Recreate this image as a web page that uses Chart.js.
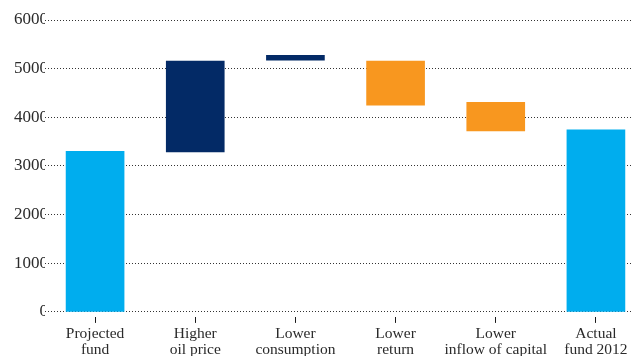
<!DOCTYPE html>
<html>
<head>
<meta charset="utf-8">
<script src="https://cdn.jsdelivr.net/npm/chart.js@4"></script>
<style>
  html, body { margin: 0; padding: 0; background: #fff; overflow: hidden; }
  #wrap { width: 631px; height: 356px; position: relative; overflow: hidden; }
</style>
</head>
<body>
<div id="wrap"><canvas id="c" width="646" height="370"></canvas></div>
<script>
const categories = [
  ['Projected', 'fund'],
  ['Higher', 'oil price'],
  ['Lower', 'consumption'],
  ['Lower', 'return'],
  ['Lower', 'inflow of capital'],
  ['Actual', 'fund 2012']
];
const barStart = [0, 3290, 5175, 4250, 3720, 0];
const barEnd   = [3300, 5155, 5275, 5155, 4310, 3740];
const barColors = ['#00ADEE', '#032A66', '#032A66', '#F8971F', '#F8971F', '#00ADEE'];
const yTicks = [0, 1000, 2000, 3000, 4000, 5000, 6000];

const textColor = '#2a2a2a';
const fontFamily = "'Liberation Serif', 'Times New Roman', serif";

new Chart(document.getElementById('c'), {
  type: 'bar',
  data: {
    labels: categories,
    datasets: [{
      data: categories.map((c, i) => [barStart[i], barEnd[i]]),
      backgroundColor: barColors,
      borderWidth: 0,
      barThickness: 58
    }]
  },
  options: {
    responsive: false,
    animation: false,
    events: [],
    layout: { padding: { top: 20, left: 0, right: 0, bottom: 0 } },
    plugins: { legend: { display: false }, tooltip: { enabled: false } },
    scales: {
      x: {
        border: { display: false },
        afterFit: (s) => { s.height = 58.1; },
        grid: {
          offset: false,
          drawOnChartArea: false,
          drawTicks: true,
          tickLength: 11,
          tickColor: '#1a1a1a',
          tickWidth: 1,
          tickBorderDash: [0, 5, 6]
        },
        ticks: {
          autoSkip: false,
          maxRotation: 0,
          padding: 4,
          color: textColor,
          font: { family: fontFamily, size: 15.5, lineHeight: 0.97 }
        }
      },
      y: {
        min: 0,
        max: 6000,
        z: 1,
        border: { display: false, dash: [1, 2] },
        afterBuildTicks: (s) => { s.ticks = yTicks.map(v => ({ value: v })); },
        afterFit: (s) => { s.width = 45; },
        grid: {
          color: '#333',
          lineWidth: 1,
          drawTicks: false
        },
        ticks: {
          padding: -3,
          color: textColor,
          font: { family: fontFamily, size: 17 },
          callback: (v) => String(v)
        }
      }
    }
  }
});
</script>
</body>
</html>
